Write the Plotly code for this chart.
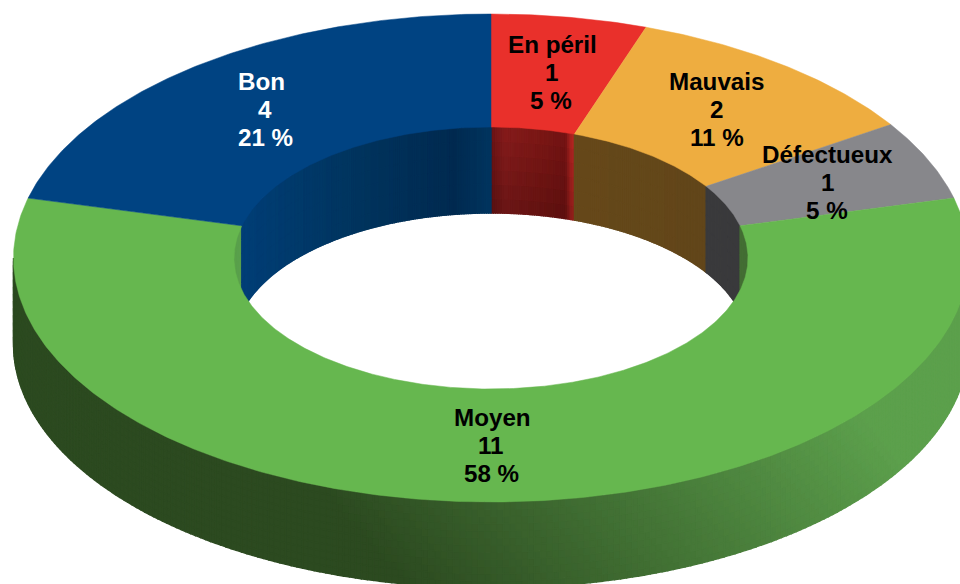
import math
import plotly.graph_objects as go

# ---- chart data ----
categories = ["En péril", "Mauvais", "Défectueux", "Moyen", "Bon"]
counts = [1, 2, 1, 11, 4]
top_colors = ["#e9302b", "#eead40", "#87878b", "#66b74f", "#004382"]
text_colors = ["#000000", "#000000", "#000000", "#000000", "#ffffff"]
name_xshift = [1, 0, 0, 1, -4]
label_yshift = [-0.9, -0.5, -0.5, 0.3, -0.5]

# ---- projection of the tilted ring, in axis units ----
CX, CY = 491.0, 258.0
RX_OUT, RY_OUT = 477.5, 244.0
RX_IN, RY_IN = 257.0, 131.0
DEPTH = 86.0
W, H = 960, 584


def pt(theta, rx, ry, dz=0.0):
    a = math.radians(theta)
    return CX + rx * math.sin(a), CY - ry * math.cos(a) + dz


def hex2rgb(h):
    return tuple(int(h[i:i + 2], 16) for i in (1, 3, 5))


def lerp_stops(stops, x):
    if x <= stops[0][0]:
        return hex2rgb(stops[0][1])
    for (x0, c0), (x1, c1) in zip(stops, stops[1:]):
        if x <= x1:
            t = (x - x0) / (x1 - x0)
            a, b = hex2rgb(c0), hex2rgb(c1)
            return tuple(a[i] + (b[i] - a[i]) * t for i in range(3))
    return hex2rgb(stops[-1][1])


INNER_STOPS = {
    "En péril": [(491, "#641214"), (505, "#7e1a1a"), (540, "#751614"),
                 (566, "#6c1212"), (572, "#a8221f"), (576, "#a8221f")],
    "Mauvais": [(575, "#66491b"), (708, "#62461a")],
    "Défectueux": [(708, "#3a3a3d"), (742, "#3a3a3d")],
    "Bon": [(242, "#003e76"), (350, "#00355f"), (455, "#002a50"), (491, "#00355f")],
}


def moyen_inner(x):
    return (90, 160, 75) if x < 491 else (68, 110, 52)


def inner_color(name, x, frac):
    rgb = moyen_inner(x) if name == "Moyen" else lerp_stops(INNER_STOPS[name], x)
    if name == "En péril":
        k = 1.06 - 0.22 * frac
        rgb = tuple(c * k for c in rgb)
    return rgb


def outer_color(x, y):
    s = (x - 330 - (y - 500) * 0.9) / 620
    s = min(1.0, max(0.0, s))
    a, b = hex2rgb("#2c4a20"), hex2rgb("#5da14d")
    return tuple(a[i] + (b[i] - a[i]) * s for i in range(3))


def quant(rgb, q=2):
    return tuple(min(255, int(round(c / q) * q)) for c in rgb)


total = sum(counts)
bounds = [0.0]
for v in counts:
    bounds.append(bounds[-1] + v / total * 360.0)

fig = go.Figure()


def add_strip_set(buckets, width):
    for rgb in sorted(buckets, key=sum):
        xs, ys = buckets[rgb]
        col = "rgb(%d,%d,%d)" % rgb
        fig.add_trace(go.Scatter(x=xs, y=ys, mode="lines", fill="toself",
                                 fillcolor=col, line=dict(color=col, width=width),
                                 hoverinfo="skip", showlegend=False))


def add_quad(buckets, color, t0, t1, rx, ry, z0, z1):
    xs, ys = [], []
    for t, z in ((t0, z0), (t1, z0), (t1, z1), (t0, z1), (t0, z0)):
        px, py = pt(t, rx, ry, z)
        xs.append(px)
        ys.append(py)
    b = buckets.setdefault(color, ([], []))
    b[0].extend(xs + [None])
    b[1].extend(ys + [None])


# outer wall (front half, belongs to the Moyen slice)
outer_buckets = {}
N_T, N_Z = 240, 12
for i in range(N_T):
    t0 = 90 + 180 * i / N_T
    t1 = 90 + 180 * (i + 1) / N_T
    for j in range(N_Z):
        z0, z1 = DEPTH * j / N_Z, DEPTH * (j + 1) / N_Z
        mx, my = pt((t0 + t1) / 2, RX_OUT, RY_OUT, (z0 + z1) / 2)
        add_quad(outer_buckets, quant(outer_color(mx, my)), t0, t1, RX_OUT, RY_OUT, z0, z1)
add_strip_set(outer_buckets, 1.4)

# inner wall (back half); each slice keeps its own strips so hard joints stay sharp
N_Z_IN = 6
for k, name in enumerate(categories):
    a0, a1 = bounds[k], bounds[k + 1]
    spans = []
    if a0 < 90:
        spans.append((a0, min(a1, 90)))
    if a1 > 270:
        spans.append((max(a0, 270), a1))
    inner_buckets = {}
    for s0, s1 in spans:
        n = max(4, int((s1 - s0) / 0.5))
        for i in range(n):
            t0 = s0 + (s1 - s0) * i / n
            t1 = s0 + (s1 - s0) * (i + 1) / n
            mx = pt((t0 + t1) / 2, RX_IN, RY_IN)[0]
            for j in range(N_Z_IN):
                z0, z1 = DEPTH * j / N_Z_IN, DEPTH * (j + 1) / N_Z_IN
                col = quant(inner_color(name, mx, (j + .5) / N_Z_IN))
                add_quad(inner_buckets, col, t0, t1, RX_IN, RY_IN, z0, z1)
    add_strip_set(inner_buckets, 1.4)

# top faces and labels
annotations = []
for k, name in enumerate(categories):
    a0, a1 = bounds[k], bounds[k + 1]
    n = max(8, int(a1 - a0) * 2)
    ts = [a0 + (a1 - a0) * i / n for i in range(n + 1)]
    outer = [pt(t, RX_OUT, RY_OUT) for t in ts]
    inner = [pt(t, RX_IN, RY_IN) for t in reversed(ts)]
    ring = outer + inner + [outer[0]]
    fig.add_trace(go.Scatter(x=[p[0] for p in ring], y=[p[1] for p in ring],
                             mode="lines", fill="toself", fillcolor=top_colors[k],
                             line=dict(color=top_colors[k], width=0.5),
                             name=name, showlegend=False, hoverinfo="name"))
    mid = (a0 + a1) / 2
    lx, ly = pt(mid, (RX_OUT + RX_IN) / 2, (RY_OUT + RY_IN) / 2)
    lines = [name, str(counts[k]), "%d %%" % round(100 * counts[k] / total)]
    for li, txt in enumerate(lines):
        annotations.append(dict(x=lx, y=ly + label_yshift[k] + (li - 1) * 28, text="<b>%s</b>" % txt,
                                xshift=name_xshift[k] if li == 0 else 0,
                                showarrow=False, xanchor="center", yanchor="middle",
                                font=dict(family="Liberation Sans", size=24.2,
                                          color=text_colors[k])))

fig.update_layout(
    width=W, height=H, margin=dict(l=0, r=0, t=0, b=0),
    paper_bgcolor="white", plot_bgcolor="white",
    xaxis=dict(range=[0, W], visible=False, fixedrange=True),
    yaxis=dict(range=[H, 0], visible=False, fixedrange=True),
    annotations=annotations, showlegend=False,
)
fig.write_html("out.html", config={"displayModeBar": False},
               post_script="document.body.style.margin='0';document.documentElement.style.overflow='hidden';")
